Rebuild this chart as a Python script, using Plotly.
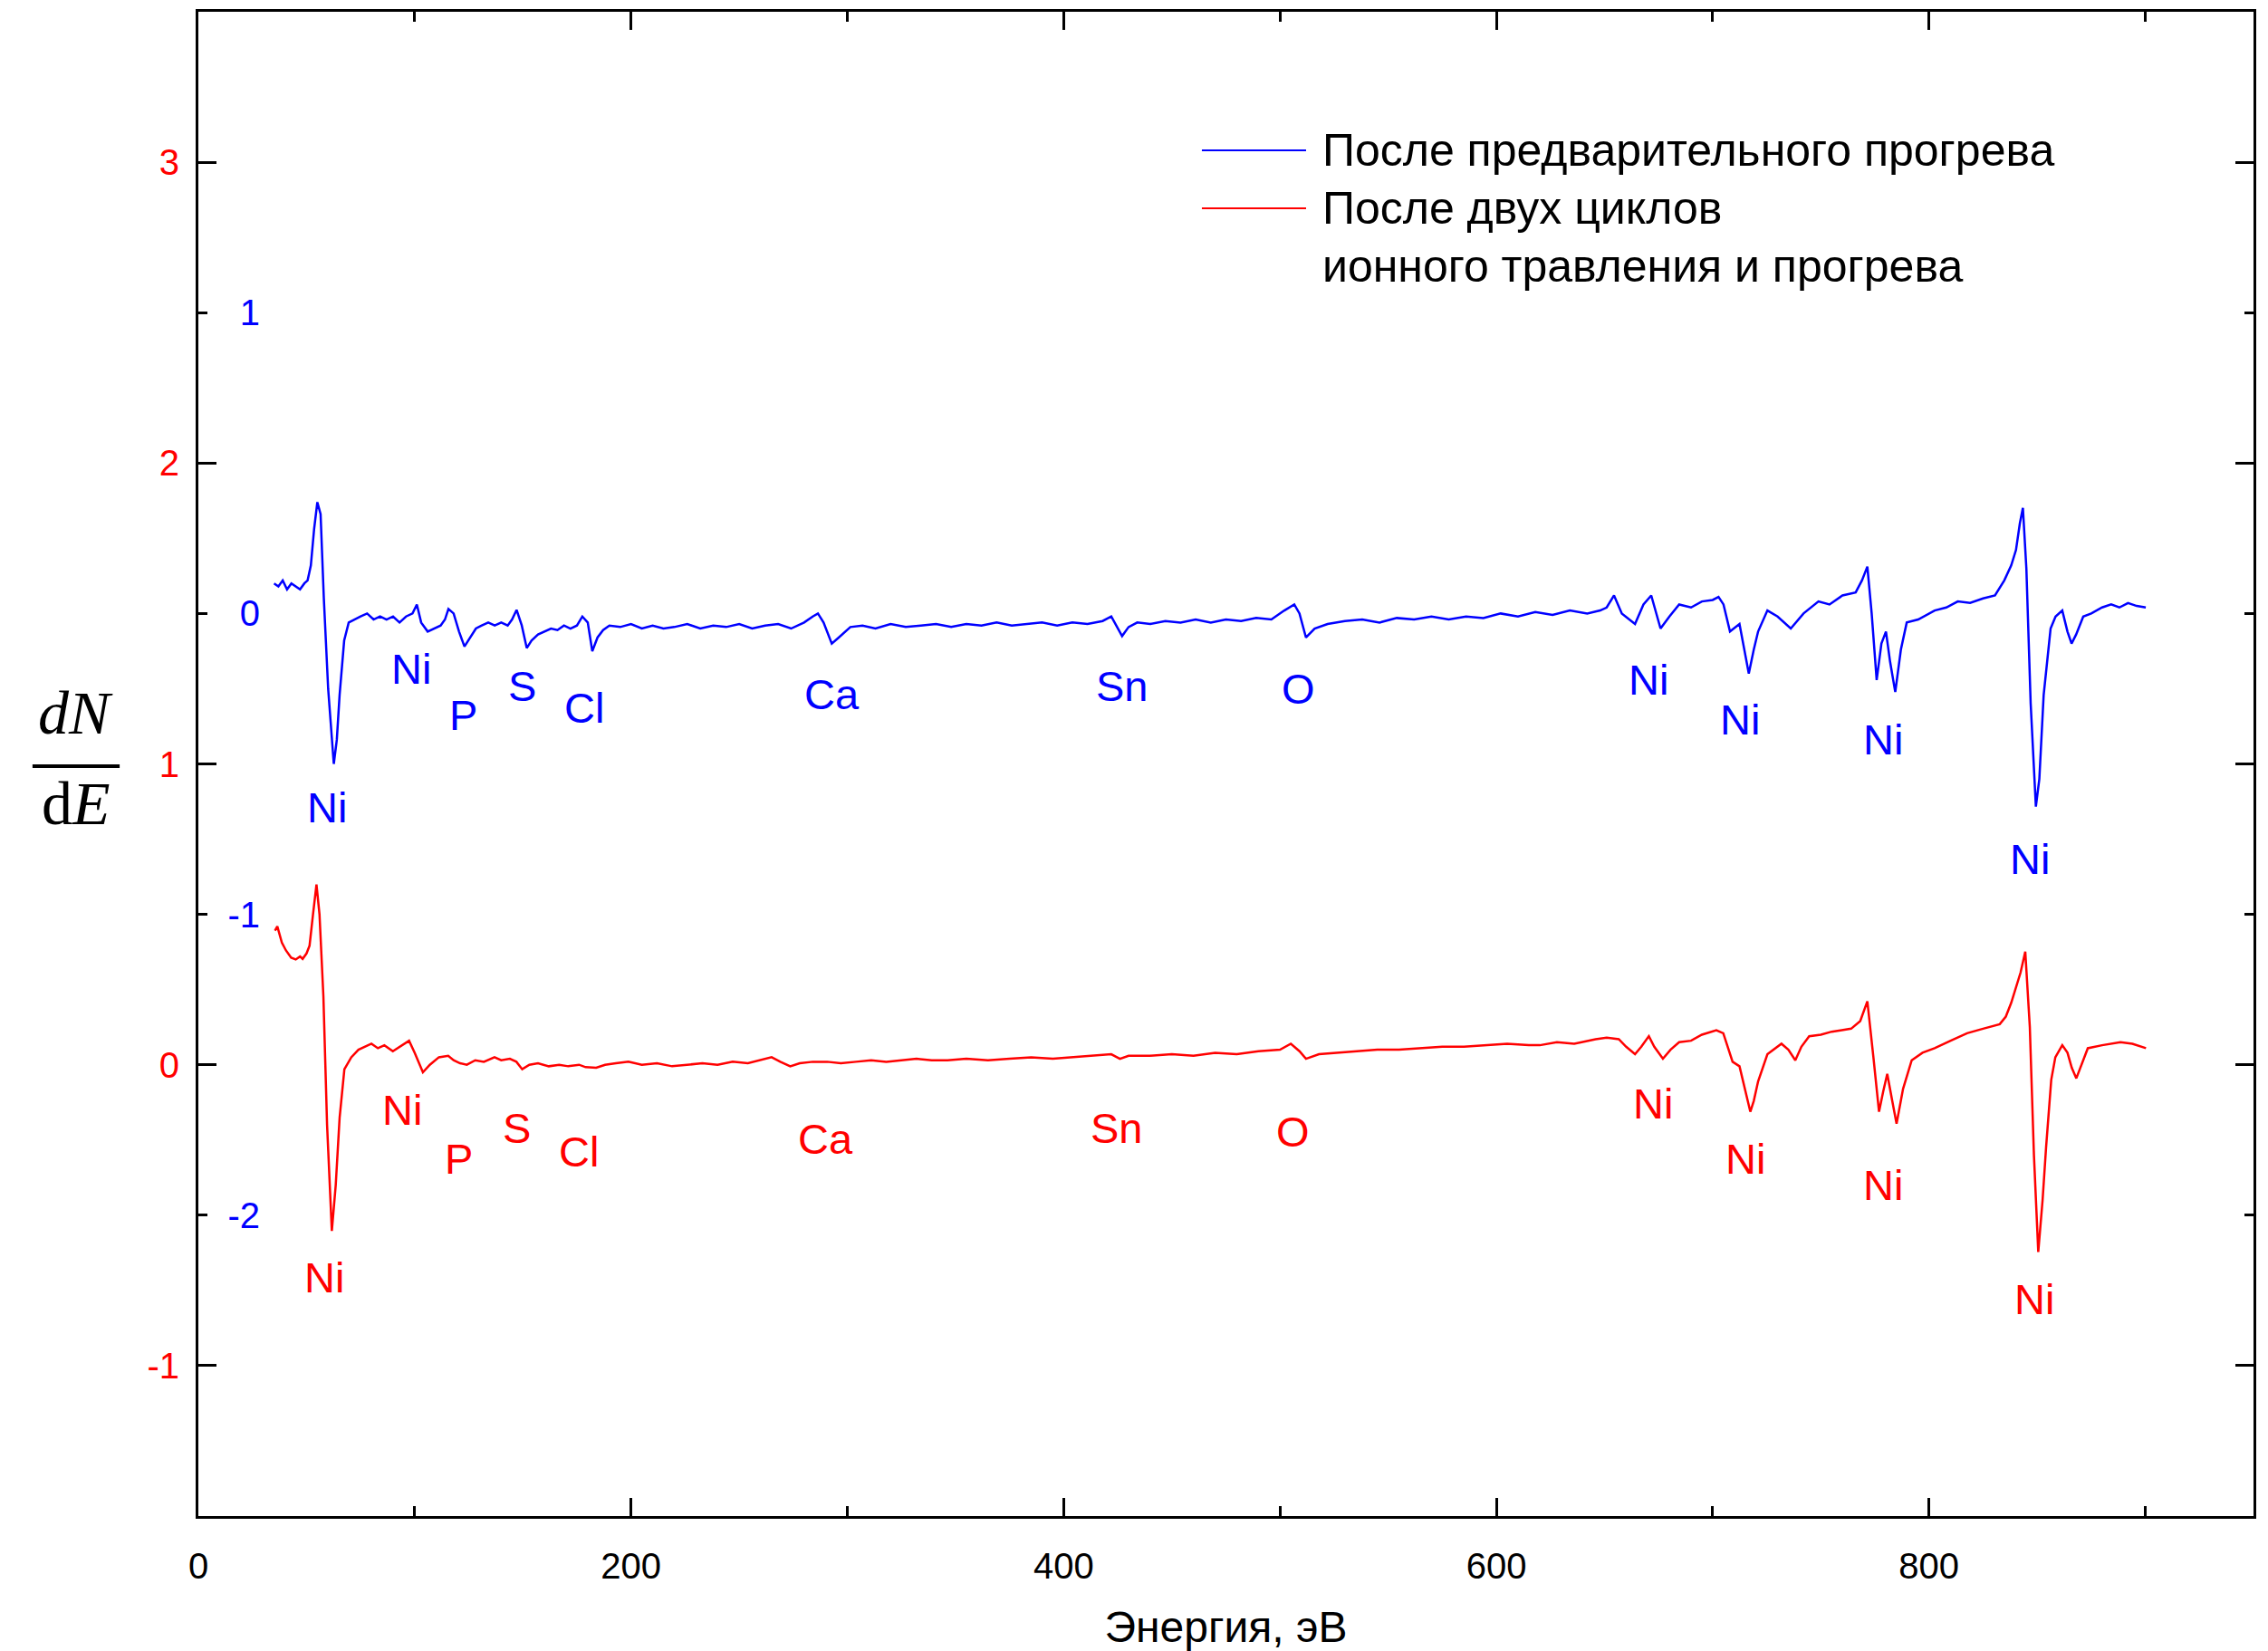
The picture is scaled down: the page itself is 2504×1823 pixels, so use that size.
import plotly.graph_objects as go

# ---------------- data ----------------
# Blue: after preliminary heating (values in blue-axis units)
blue_x = [35, 37, 39, 41, 43, 45, 47, 49, 50.5, 52, 53.5, 55, 56.5, 58, 60, 62.6, 64, 65.3, 67.4, 69.5,
          72, 75, 78, 81, 84, 87, 90, 93, 96, 99, 101, 103, 106, 109, 112, 114, 115.6, 118, 120.5, 123,
          125.5, 128.3, 131, 134, 137, 140, 143, 145, 147.1, 149.5, 151.8, 154, 157, 160.4, 163, 166, 169,
          172, 175, 177.5, 180, 182.1, 184.5, 187.1, 190, 195, 200, 205, 210, 215, 220, 226, 232, 238, 244,
          250, 256, 262, 268, 274, 280, 284, 286.4, 289, 292.8, 296, 301.4, 307, 313, 320, 327, 334, 341,
          348, 355, 362, 369, 376, 383, 390, 397, 404, 411, 418, 422, 425, 427, 430, 434, 440, 447, 454,
          461, 468, 475, 482, 489, 496, 502, 506.6, 509, 512, 516, 522, 530, 538, 546, 554, 562, 570, 578,
          586, 594, 602, 610, 618, 626, 634, 642, 648, 651, 654.4, 658, 664.1, 668, 671.6, 675.9, 680,
          684.5, 690, 695, 700, 702.7, 705, 708, 712.4, 714.5, 716.7, 719, 721, 725.3, 730, 736.1, 742,
          748.9, 754, 760, 766.1, 769, 771.5, 773.5, 775.8, 778, 780.1, 782, 784.4, 787, 789.7, 795, 802.6,
          808, 813.3, 819, 825, 830.5, 834.8, 838, 840.2, 842, 843.4, 845, 847, 849.4, 851, 853, 856.2,
          858.5, 861.6, 864, 865.9, 868, 871.3, 875, 880, 884.2, 888, 892, 896, 900.2]
blue_y = [0.10, 0.09, 0.11, 0.08, 0.10, 0.09, 0.08, 0.10, 0.11, 0.16, 0.28, 0.37, 0.33, 0.05, -0.25, -0.50,
          -0.42, -0.27, -0.09, -0.03, -0.02, -0.01, 0.00, -0.02, -0.01, -0.02, -0.01, -0.03, -0.01, 0.00,
          0.03, -0.03, -0.06, -0.05, -0.04, -0.02, 0.015, 0.0, -0.06, -0.11, -0.08, -0.05, -0.04, -0.03,
          -0.04, -0.03, -0.04, -0.02, 0.012, -0.04, -0.115, -0.09, -0.07, -0.06, -0.05, -0.055, -0.04,
          -0.05, -0.04, -0.01, -0.03, -0.125, -0.08, -0.055, -0.04, -0.045, -0.035, -0.05, -0.04, -0.05,
          -0.045, -0.035, -0.05, -0.04, -0.045, -0.035, -0.05, -0.04, -0.035, -0.05, -0.03, -0.01, 0.0,
          -0.03, -0.10, -0.08, -0.045, -0.04, -0.05, -0.035, -0.045, -0.04, -0.035, -0.045, -0.035, -0.04,
          -0.03, -0.04, -0.035, -0.03, -0.04, -0.03, -0.035, -0.025, -0.01, -0.05, -0.075, -0.045, -0.03,
          -0.035, -0.025, -0.03, -0.02, -0.03, -0.02, -0.025, -0.015, -0.02, 0.01, 0.03, 0.0, -0.08, -0.05,
          -0.035, -0.025, -0.02, -0.03, -0.015, -0.02, -0.01, -0.02, -0.01, -0.015, 0.0, -0.01, 0.005,
          -0.005, 0.01, 0.0, 0.01, 0.02, 0.06, 0.0, -0.035, 0.03, 0.06, -0.05, -0.01, 0.03, 0.02, 0.04,
          0.045, 0.055, 0.03, -0.06, -0.035, -0.12, -0.20, -0.12, -0.06, 0.01, -0.01, -0.05, 0.0, 0.04,
          0.03, 0.06, 0.07, 0.11, 0.156, 0.0, -0.221, -0.10, -0.06, -0.16, -0.261, -0.12, -0.03, -0.02,
          0.01, 0.02, 0.04, 0.035, 0.05, 0.06, 0.11, 0.16, 0.211, 0.30, 0.351, 0.15, -0.30, -0.642, -0.55,
          -0.271, -0.05, -0.01, 0.01, -0.06, -0.10, -0.07, -0.01, 0.0, 0.02, 0.03, 0.02, 0.035, 0.025, 0.02]

# Red: after two cycles of ion etching and heating (values in red-axis units)
red_x = [35.4, 36.5, 38.6, 40.5, 42.9, 45, 47, 48.2, 50, 51.4, 53, 54.6, 56, 57.8, 59.5, 61.7, 63.5, 65.3,
         67.5, 70.7, 74, 77, 80, 83, 86, 89.9, 93, 95.5, 97.4, 100, 103.8, 107, 111.2, 115.5, 118, 121,
         124.1, 128, 132, 136.9, 140, 144, 147, 149.7, 153, 157, 162, 166.8, 171, 176, 179, 183.9, 188,
         193, 198.8, 205, 212, 219, 226.6, 233, 240, 247, 254, 260, 265, 269, 273.6, 278, 284, 290.7, 297,
         304, 311, 318, 325, 332, 339, 346.3, 355, 365, 375, 385, 395, 405, 415, 422, 426, 430, 440, 450,
         460, 470, 480, 490, 500, 505, 509, 512, 518, 526, 535, 545, 555, 565, 575, 585, 595, 605, 615,
         620.1, 628, 636, 645.9, 651, 656.6, 660, 664.1, 667, 670.5, 673, 677.0, 680.5, 684.5, 690, 695,
         701.7, 704.9, 709.2, 712.4, 715, 717.4, 719, 721.0, 725.3, 731.8, 735, 738.2, 741, 744.6, 750,
         755, 759.7, 764, 768.2, 771.5, 774.3, 776.9, 778.8, 780.7, 783, 785.0, 788, 792.0, 797, 802.6,
         810, 817.6, 825, 832.7, 835.5, 838.0, 842.3, 844.5, 846.6, 848.5, 850.5, 852.5, 854.1, 856.5,
         858.4, 861.6, 864, 866, 868.1, 870.5, 873.4, 880, 888.5, 894, 900.3]
red_y = [0.446, 0.46, 0.406, 0.38, 0.356, 0.35, 0.36, 0.352, 0.37, 0.396, 0.50, 0.599, 0.50, 0.227, -0.20,
         -0.552, -0.40, -0.176, -0.015, 0.025, 0.05, 0.060, 0.07, 0.055, 0.065, 0.045, 0.06, 0.07, 0.080,
         0.04, -0.025, 0.0, 0.025, 0.03, 0.015, 0.005, 0.0, 0.015, 0.01, 0.025, 0.015, 0.02, 0.01, -0.015,
         0.0, 0.005, -0.005, 0.0, -0.005, 0.0, -0.008, -0.01, 0.0, 0.005, 0.01, 0.0, 0.005, -0.005, 0.0,
         0.005, 0.0, 0.01, 0.005, 0.015, 0.025, 0.01, -0.005, 0.005, 0.01, 0.01, 0.005, 0.01, 0.015, 0.01,
         0.015, 0.02, 0.015, 0.015, 0.02, 0.015, 0.02, 0.025, 0.02, 0.025, 0.03, 0.035, 0.02, 0.03, 0.03,
         0.035, 0.03, 0.04, 0.035, 0.045, 0.05, 0.07, 0.045, 0.02, 0.035, 0.04, 0.045, 0.05, 0.05, 0.055,
         0.06, 0.06, 0.065, 0.07, 0.065, 0.065, 0.075, 0.07, 0.085, 0.09, 0.085, 0.06, 0.035, 0.06, 0.095,
         0.06, 0.02, 0.05, 0.075, 0.08, 0.10, 0.115, 0.105, 0.01, -0.005, -0.08, -0.156, -0.12, -0.055,
         0.035, 0.07, 0.05, 0.015, 0.06, 0.095, 0.10, 0.11, 0.115, 0.12, 0.145, 0.211, 0.025, -0.156,
         -0.09, -0.03, -0.12, -0.196, -0.08, 0.015, 0.04, 0.055, 0.08, 0.105, 0.12, 0.135, 0.16, 0.206,
         0.306, 0.376, 0.125, -0.30, -0.622, -0.45, -0.276, -0.05, 0.025, 0.065, 0.04, -0.01, -0.045, 0.0,
         0.055, 0.065, 0.075, 0.07, 0.055]

# Peak labels (positions in red-axis units)
blue_lbl_text = ["Ni", "Ni", "P", "S", "Cl", "Ca", "Sn", "O", "Ni", "Ni", "Ni", "Ni"]
blue_lbl_x = [59.5, 98.2, 122.3, 149.7, 178.4, 292.7, 427.0, 508.6, 670.3, 712.4, 778.6, 846.7]
blue_lbl_y = [0.856, 1.317, 1.163, 1.26, 1.188, 1.231, 1.26, 1.25, 1.279, 1.149, 1.082, 0.683]

red_lbl_text = ["Ni", "Ni", "P", "S", "Cl", "Ca", "Sn", "O", "Ni", "Ni", "Ni", "Ni"]
red_lbl_x = [58.1, 94.2, 120.3, 147.0, 175.8, 290.0, 424.4, 505.9, 672.3, 715.1, 778.6, 848.7]
red_lbl_y = [-0.707, -0.149, -0.3125, -0.2115, -0.288, -0.245, -0.2115, -0.221, -0.130, -0.3125, -0.399, -0.779]

x_ticks = [0, 200, 400, 600, 800]
red_ticks = [-1, 0, 1, 2, 3]
blue_ticks = [-2, -1, 0, 1]

series_names = ["После предварительного прогрева",
                "После двух циклов",
                "ионного травления и прогрева"]

BLUE = "#0000FF"
RED = "#FF0000"
SANS = "Liberation Sans, Arial, sans-serif"
SERIF = "Liberation Serif, Times New Roman, serif"

fig = go.Figure()
fig.add_trace(go.Scatter(x=blue_x, y=blue_y, mode="lines", yaxis="y2",
                         line=dict(color=BLUE, width=2.5), name=series_names[0]))
fig.add_trace(go.Scatter(x=red_x, y=red_y, mode="lines", yaxis="y",
                         line=dict(color=RED, width=2.5),
                         name=series_names[1] + " " + series_names[2]))

ann = []
for t, x, y in zip(blue_lbl_text, blue_lbl_x, blue_lbl_y):
    ann.append(dict(x=x, y=y, xref="x", yref="y", text=t, showarrow=False,
                    font=dict(family=SANS, size=47, color=BLUE)))
for t, x, y in zip(red_lbl_text, red_lbl_x, red_lbl_y):
    ann.append(dict(x=x, y=y, xref="x", yref="y", text=t, showarrow=False,
                    font=dict(family=SANS, size=47, color=RED)))

# manual legend
leg_font = dict(family=SANS, size=50, color="black")
ann.append(dict(x=0.5460, y=0.9079, xref="paper", yref="paper", text=series_names[0],
                showarrow=False, xanchor="left", yanchor="middle", font=leg_font))
ann.append(dict(x=0.5460, y=0.8694, xref="paper", yref="paper", text=series_names[1],
                showarrow=False, xanchor="left", yanchor="middle", font=leg_font))
ann.append(dict(x=0.5460, y=0.8308, xref="paper", yref="paper", text=series_names[2],
                showarrow=False, xanchor="left", yanchor="middle", font=leg_font))

# y label dN/dE
ann.append(dict(x=-0.0595, y=0.5340, xref="paper", yref="paper", text="<i>dN</i>",
                showarrow=False, xanchor="center", yanchor="middle",
                font=dict(family=SERIF, size=68, color="black")))
ann.append(dict(x=-0.0595, y=0.4740, xref="paper", yref="paper", text="d<i>E</i>",
                showarrow=False, xanchor="center", yanchor="middle",
                font=dict(family=SERIF, size=68, color="black")))

shapes = [
    dict(type="line", xref="paper", yref="paper", x0=0.4883, x1=0.5390, y0=0.9079, y1=0.9079,
         line=dict(color=BLUE, width=2)),
    dict(type="line", xref="paper", yref="paper", x0=0.4883, x1=0.5390, y0=0.8694, y1=0.8694,
         line=dict(color=RED, width=2)),
    dict(type="line", xref="paper", yref="paper", x0=-0.0807, x1=-0.0383, y0=0.4985, y1=0.4985,
         line=dict(color="black", width=4)),
]

tickfont = dict(family=SANS, size=40, color="black")
fig.update_layout(
    width=2504, height=1823,
    margin=dict(l=219, r=16, t=13, b=149, autoexpand=False),
    paper_bgcolor="white", plot_bgcolor="white",
    showlegend=False,
    annotations=ann, shapes=shapes,
    xaxis=dict(range=[0, 950], tickvals=x_ticks, ticktext=[str(v) for v in x_ticks],
               ticks="inside", ticklen=20, tickwidth=3, tickcolor="black",
               minor=dict(dtick=100, tick0=0, ticks="inside", ticklen=11, tickwidth=3, tickcolor="black"),
               showline=True, linewidth=3, linecolor="black", mirror="ticks",
               showgrid=False, zeroline=False, tickfont=tickfont, ticklabelstandoff=18,
               title=dict(text="Энергия, эВ", font=dict(family=SANS, size=48, color="black"), standoff=30),
               automargin=False),
    yaxis=dict(range=[-1.5, 3.5], tickvals=red_ticks, ticktext=[str(v) for v in red_ticks],
               ticks="inside", ticklen=20, tickwidth=3, tickcolor="black",
               minor=dict(dtick=0.5, tick0=0, ticks="inside", ticklen=10, tickwidth=3, tickcolor="black"),
               showline=True, linewidth=3, linecolor="black", mirror="ticks",
               showgrid=False, zeroline=False,
               tickfont=dict(family=SANS, size=40, color=RED), ticklabelstandoff=10,
               automargin=False),
    yaxis2=dict(range=[-3, 2], overlaying="y", anchor="free", position=0.03, side="left",
                tickvals=blue_ticks, ticktext=[str(v) for v in blue_ticks],
                ticks="", showline=False, showgrid=False, zeroline=False,
                tickfont=dict(family=SANS, size=40, color=BLUE), automargin=False),
)

fig.write_html("out.html")
